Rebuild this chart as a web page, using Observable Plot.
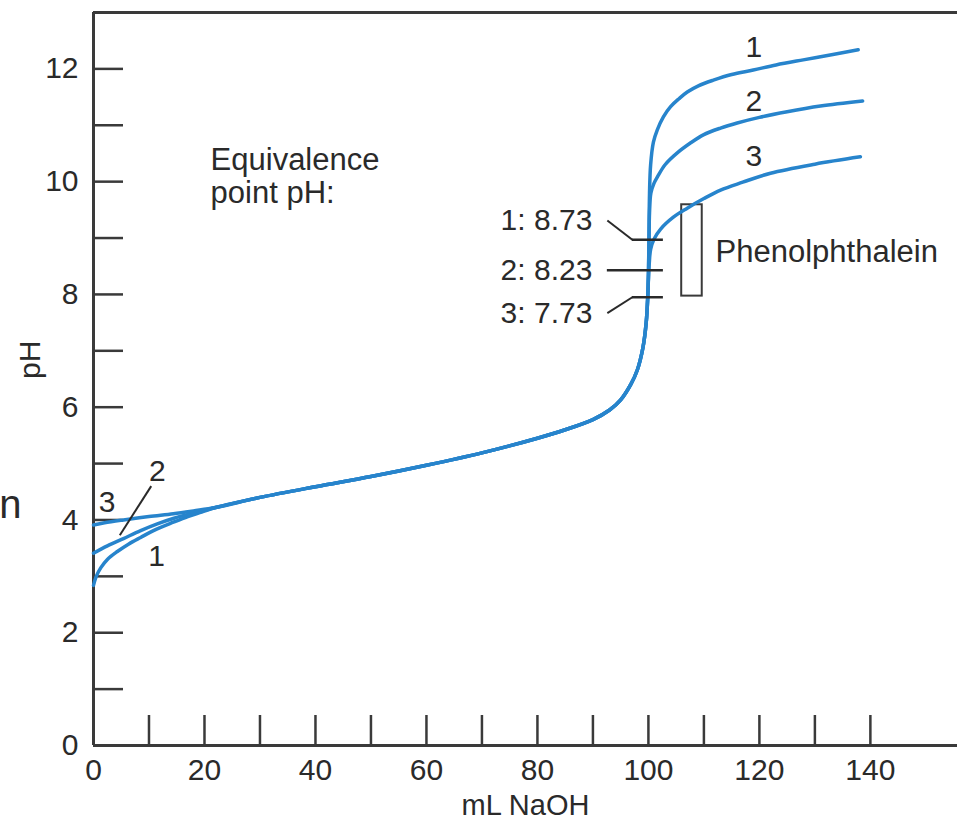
<!DOCTYPE html>
<html>
<head>
<meta charset="utf-8">
<script src="https://cdn.jsdelivr.net/npm/d3@7"></script>
<script src="https://cdn.jsdelivr.net/npm/@observablehq/plot@0.6"></script>
<style>
  body { margin: 0; background: #fff; }
  svg { display: block; }
</style>
</head>
<body>
<div id="chart"></div>
<script>
// ---- Data ----
// Shared buffer-region / steep-rise part of the three titration curves
const commonX  = [22, 30, 40, 50, 60, 70, 80, 85, 90, 93, 95, 96.8, 98, 99, 99.6, 99.9, 100.0];
const commonPH = [4.22, 4.40, 4.59, 4.77, 4.97, 5.19, 5.45, 5.6, 5.78, 5.95, 6.13, 6.4, 6.66, 7.05, 7.5, 8.0, 8.3];

// Individual starts (before merging)
const start1X  = [0, 0.5, 1.3, 2.5, 4.3, 6.3, 8.5, 11, 14.4, 17, 19.5];
const start1PH = [2.84, 3.0, 3.15, 3.3, 3.44, 3.57, 3.69, 3.82, 3.96, 4.06, 4.14];
const start2X  = [0, 2.5, 5.4, 8.5, 11.5, 14.5, 17.5, 20];
const start2PH = [3.41, 3.54, 3.67, 3.81, 3.93, 4.03, 4.11, 4.17];
const start3X  = [0, 2, 5.4, 10, 14.4, 18];
const start3PH = [3.91, 3.95, 4.0, 4.06, 4.11, 4.16];

// Individual ends (after equivalence)
const end1X  = [100.1, 100.2, 100.4, 100.9, 101.6, 102.7, 104, 105.5, 107, 109, 111.7, 115, 118.9, 123, 127.9, 133, 137.8];
const end1PH = [9.0, 9.8, 10.3, 10.7, 10.92, 11.15, 11.33, 11.47, 11.59, 11.7, 11.8, 11.9, 11.98, 12.07, 12.16, 12.25, 12.34];
const end2X  = [100.1, 100.2, 100.45, 101, 101.6, 103, 105.2, 107.5, 109.9, 113, 116, 120, 125, 131, 138.6];
const end2PH = [8.9, 9.45, 9.8, 9.97, 10.08, 10.3, 10.51, 10.68, 10.83, 10.95, 11.04, 11.14, 11.24, 11.34, 11.43];
const end3X  = [100.15, 100.4, 101, 102.2, 104.5, 107, 110, 113, 117, 122, 130, 138.2];
const end3PH = [8.55, 8.8, 8.98, 9.16, 9.37, 9.53, 9.7, 9.85, 9.99, 10.15, 10.31, 10.44];

const curveNames = ["1", "2", "3"];
const eqLabels   = ["1: 8.73", "2: 8.23", "3: 7.73"];
const eqMarkPH   = [8.97, 8.43, 7.95];          // where the marks are drawn in the picture
const indicatorName  = "Phenolphthalein";
const indicatorRange = [7.97, 9.59];

const xTicksMinor  = [10, 20, 30, 40, 50, 60, 70, 80, 90, 100, 110, 120, 130, 140];
const xTickLabels  = [0, 20, 40, 60, 80, 100, 120, 140];
const yTicksMinor  = [1, 2, 3, 4, 5, 6, 7, 8, 9, 10, 11, 12];
const yTickLabels  = [0, 2, 4, 6, 8, 10, 12];
const xTitle = "mL NaOH";
const yTitle = "pH";

// ---- Build table ----
const zip = (xs, ys, name) => xs.map((x, i) => ({x, pH: ys[i], curve: name}));
const rows = [
  ...zip(start1X, start1PH, "1"), ...zip(commonX, commonPH, "1"), ...zip(end1X, end1PH, "1"),
  ...zip(start2X, start2PH, "2"), ...zip(commonX, commonPH, "2"), ...zip(end2X, end2PH, "2"),
  ...zip(start3X, start3PH, "3"), ...zip(commonX, commonPH, "3"), ...zip(end3X, end3PH, "3")
];

const blue = "#2784cc";
const ink = "#2a2a2a";
const axisInk = "#3a3a3a";

const eqRows = eqLabels.map((t, i) => ({label: t, mark: eqMarkPH[i], i}));

const plot = Plot.plot({
  width: 957,
  height: 822,
  marginLeft: 93,
  marginRight: 0,
  marginTop: 12,
  marginBottom: 77,
  x: {domain: [0, 155.7]},
  y: {domain: [0, 13]},
  style: {fontFamily: "'Liberation Sans', Arial, sans-serif", fontSize: "30px", color: ink, background: "#fff"},
  marks: [
    // frame (left, bottom, top)
    Plot.ruleX([0], {stroke: axisInk, strokeWidth: 3}),
    Plot.ruleY([0], {stroke: axisInk, strokeWidth: 3}),
    Plot.ruleY([13], {stroke: axisInk, strokeWidth: 3}),
    // inward ticks
    Plot.axisY({ticks: yTicksMinor, tickSize: 30, dx: 30, fill: "none", label: null, stroke: axisInk, strokeWidth: 2.5}),
    Plot.axisX({ticks: xTicksMinor, tickSize: 30, dy: -30, fill: "none", label: null, stroke: axisInk, strokeWidth: 2.5}),
    // tick labels
    Plot.axisY({ticks: yTickLabels, tickSize: 0, tickPadding: 15, label: null, fontSize: 30}),
    Plot.axisX({ticks: xTickLabels, tickSize: 0, tickPadding: 13, label: null, fontSize: 30}),
    // axis titles
    Plot.text([xTitle], {frameAnchor: "bottom", dy: 60, lineAnchor: "middle", fontSize: 29, fill: ink}),
    Plot.text([yTitle], {frameAnchor: "left", dx: -63, rotate: -90, lineAnchor: "middle", fontSize: 30, fill: ink}),

    // indicator box
    Plot.rect([indicatorRange], {x1: 106, x2: 109.7, y1: d => d[0], y2: d => d[1], fill: "none", stroke: axisInk, strokeWidth: 2}),
    Plot.text([indicatorName], {x: 112.1, y: 8.75, textAnchor: "start", lineAnchor: "middle", fontSize: 31, fill: ink}),

    // curves
    Plot.line(rows, {x: "x", y: "pH", z: "curve", stroke: blue, strokeWidth: 3.5, curve: "catmull-rom"}),

    // equivalence point marks
    Plot.ruleY(eqRows, {y: "mark", x1: d => d.i === 1 ? 92.6 : 97.1, x2: 102.7, stroke: ink, strokeWidth: 2.5}),
    Plot.link(eqRows.filter(d => d.i !== 1), {
      x1: 92.6, x2: 97.1,
      y1: d => d.i === 0 ? 9.31 : 7.67,
      y2: "mark",
      stroke: ink, strokeWidth: 2
    }),
    Plot.text(eqRows, {x: 89.9, y: d => [9.32, 8.43, 7.67][d.i], text: "label", textAnchor: "end", lineAnchor: "middle", fontSize: 30, fill: ink}),
    Plot.text(["Equivalence\npoint pH:"], {x: 21.1, y: 10.62, textAnchor: "start", lineAnchor: "top", lineHeight: 1.07, fontSize: 31, fill: ink}),

    // curve number labels (right)
    Plot.text(curveNames, {x: 119, y: [12.39, 11.43, 10.44], text: d => d, lineAnchor: "middle", fontSize: 30, fill: ink}),
    // curve number labels (left)
    Plot.text(curveNames, {x: [11.35, 11.5, 2.43], y: [3.36, 4.86, 4.31], text: d => d, lineAnchor: "middle", fontSize: 30, fill: ink}),
    Plot.link([curveNames[1]], {x1: 10.4, y1: 4.6, x2: 4.74, y2: 3.73, stroke: ink, strokeWidth: 2}),

    // stray glyph at left edge of the reference crop
    Plot.text(["n"], {x: -15, y: 4.26, lineAnchor: "middle", fontSize: 40, fill: ink})
  ]
});

document.getElementById("chart").appendChild(plot);
</script>
</body>
</html>
